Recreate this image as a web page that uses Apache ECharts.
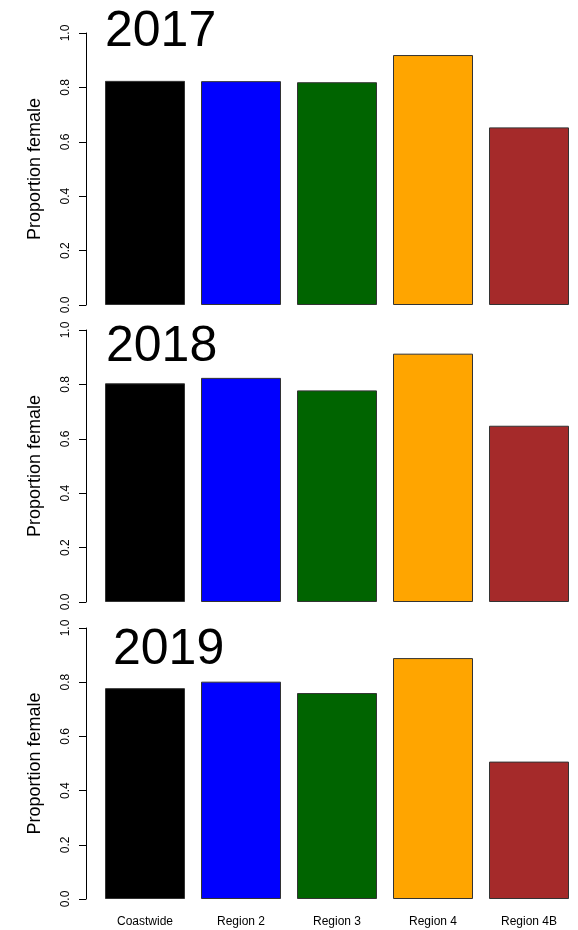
<!DOCTYPE html>
<html>
<head>
<meta charset="utf-8">
<script src="https://cdn.jsdelivr.net/npm/echarts@6/dist/echarts.min.js"></script>
<style>
  html, body { margin: 0; padding: 0; background: #fff; }
  #chart { width: 578px; height: 930px; }
</style>
</head>
<body>
<div id="chart"></div>
<script>
// Proportion female by region, one panel per year (R barplot look).
const categories = ['Coastwide', 'Region 2', 'Region 3', 'Region 4', 'Region 4B'];
const years = ['2017', '2018', '2019'];
const prop2017 = [0.824, 0.823, 0.819, 0.919, 0.653];
const prop2018 = [0.804, 0.824, 0.778, 0.913, 0.648];
const prop2019 = [0.778, 0.802, 0.760, 0.889, 0.507];
const barColors = ['#000000', '#0000ff', '#006400', '#ffa500', '#a52a2a'];

const FONT = 'Liberation Sans, Arial, sans-serif';
const panels = [
  { vals: prop2017, top: 33, height: 272, titleTop: 2, titleLeft: 100 },
  { vals: prop2018, top: 330, height: 272, titleTop: 317, titleLeft: 101 },
  { vals: prop2019, top: 628, height: 271, titleTop: 620, titleLeft: 108 },
];

const chart = echarts.init(document.getElementById('chart'), null, { renderer: 'canvas' });

const grid = [], xAxis = [], yAxis = [], series = [], title = [];
panels.forEach((p, i) => {
  grid.push({ left: 97, right: 1, top: p.top, height: p.height });
  title.push({
    text: years[i], left: p.titleLeft, top: p.titleTop,
    textStyle: { fontSize: 50, fontWeight: 'normal', fontFamily: FONT, color: '#000' },
  });
  xAxis.push({
    type: 'category', gridIndex: i, data: categories,
    axisLine: { show: false }, axisTick: { show: false },
    axisLabel: { show: i === 2, fontSize: 12, fontFamily: FONT, color: '#000', margin: 17 },
  });
  yAxis.push({
    type: 'value', gridIndex: i, min: 0, max: 1, interval: 0.2, offset: 11,
    name: 'Proportion female', nameLocation: 'middle', nameRotate: 90, nameGap: 42,
    nameTextStyle: { fontSize: 18, fontFamily: FONT, color: '#000' },
    axisLine: { show: true, lineStyle: { color: '#000', width: 1 } },
    axisTick: { show: true, length: 7, lineStyle: { color: '#000' } },
    splitLine: { show: false },
    axisLabel: {
      rotate: 90, margin: 14, fontSize: 12, fontFamily: FONT, color: '#000',
      showMinLabel: true, showMaxLabel: true,
      formatter: v => v.toFixed(1),
    },
  });
  series.push({
    type: 'bar', xAxisIndex: i, yAxisIndex: i, barWidth: 80,
    data: p.vals.map((v, k) => ({
      value: v,
      itemStyle: { color: barColors[k], borderColor: '#333', borderWidth: 1 },
    })),
    silent: true, animation: false,
  });
});

chart.setOption({
  animation: false,
  backgroundColor: '#fff',
  title, grid, xAxis, yAxis, series,
});
</script>
</body>
</html>
